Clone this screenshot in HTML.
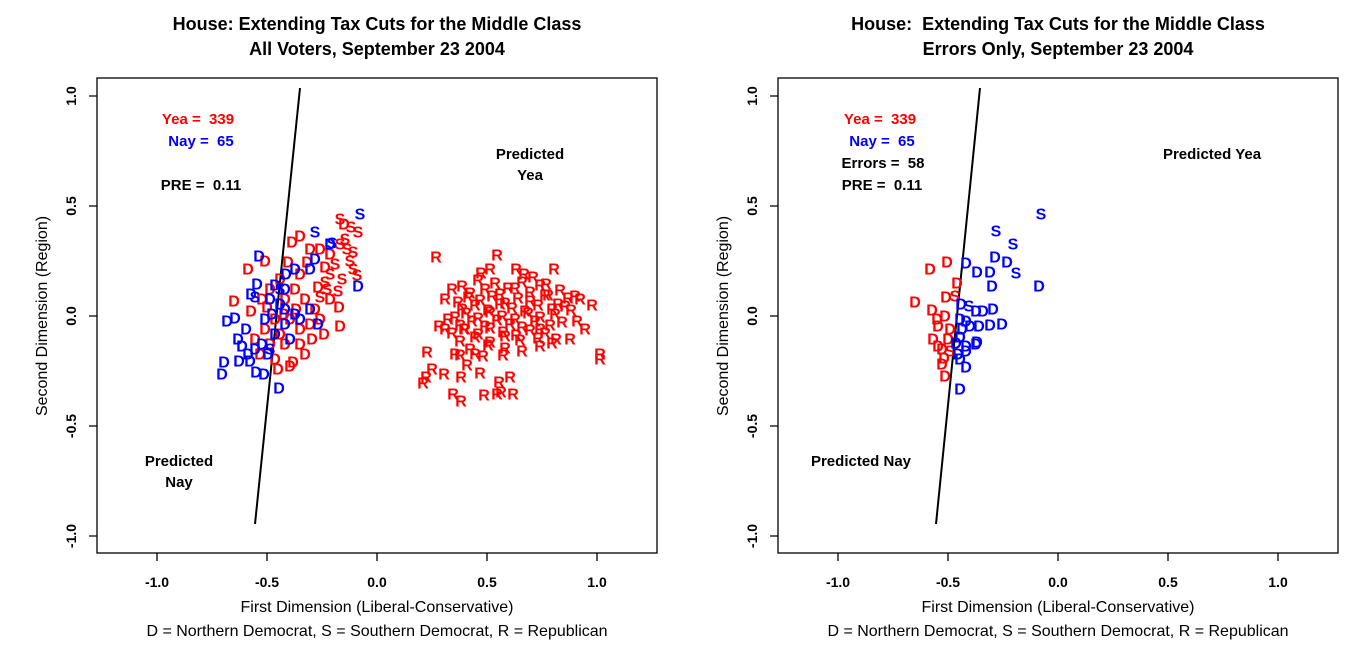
<!DOCTYPE html>
<html><head><meta charset="utf-8"><style>
html,body{margin:0;padding:0;background:#fff}
svg{display:block}
text{font-family:"Liberation Sans",Arial,sans-serif;white-space:pre}
</style></head><body>
<svg width="1362" height="651" viewBox="0 0 1362 651" xmlns="http://www.w3.org/2000/svg">
<rect width="1362" height="651" fill="#fff"/>
<g font-weight="bold" font-size="18" text-anchor="middle">
<text x="377" y="30">House: Extending Tax Cuts for the Middle Class</text>
<text x="377" y="55">All Voters, September 23 2004</text>
<text x="1058" y="30">House:&#160; Extending Tax Cuts for the Middle Class</text>
<text x="1058" y="55">Errors Only, September 23 2004</text>
</g>
<g font-size="16" text-anchor="middle">
<text x="377" y="612">First Dimension (Liberal-Conservative)</text>
<text x="377" y="636">D = Northern Democrat, S = Southern Democrat, R = Republican</text>
<text x="1058" y="612">First Dimension (Liberal-Conservative)</text>
<text x="1058" y="636">D = Northern Democrat, S = Southern Democrat, R = Republican</text>
<text transform="translate(47,316) rotate(-90)">Second Dimension (Region)</text>
<text transform="translate(728,316) rotate(-90)">Second Dimension (Region)</text>
</g>
<g fill="none" stroke="#000" stroke-width="1.3">
<rect x="97" y="78" width="560" height="475"/>
<rect x="778" y="78" width="560" height="475"/>
<path d="M157 553v8M267 553v8M377 553v8M487 553v8M597 553v8M97 96h-8M97 206h-8M97 316h-8M97 426h-8M97 536h-8"/>
<path d="M838 553v8M948 553v8M1058 553v8M1168 553v8M1278 553v8M778 96h-8M778 206h-8M778 316h-8M778 426h-8M778 536h-8"/>
<path d="M300 88L255 524" stroke-width="2"/>
<path d="M980 88L936 524" stroke-width="2"/>
</g>
<g font-weight="bold" font-size="14" text-anchor="middle">
<text x="157" y="587">-1.0</text><text x="267" y="587">-0.5</text><text x="377" y="587">0.0</text><text x="487" y="587">0.5</text><text x="597" y="587">1.0</text>
<text x="838" y="587">-1.0</text><text x="948" y="587">-0.5</text><text x="1058" y="587">0.0</text><text x="1168" y="587">0.5</text><text x="1278" y="587">1.0</text>
<text transform="translate(76,96) rotate(-90)">1.0</text><text transform="translate(76,206) rotate(-90)">0.5</text><text transform="translate(76,316) rotate(-90)">0.0</text><text transform="translate(76,426) rotate(-90)">-0.5</text><text transform="translate(76,536) rotate(-90)">-1.0</text>
<text transform="translate(757,96) rotate(-90)">1.0</text><text transform="translate(757,206) rotate(-90)">0.5</text><text transform="translate(757,316) rotate(-90)">0.0</text><text transform="translate(757,426) rotate(-90)">-0.5</text><text transform="translate(757,536) rotate(-90)">-1.0</text>
</g>
<g font-weight="bold" font-size="15" text-anchor="middle">
<text x="198" y="124" fill="#f00">Yea =&#160; 339</text>
<text x="201" y="146" fill="#00f">Nay =&#160; 65</text>
<text x="201" y="190">PRE =&#160; 0.11</text>
<text x="530" y="159">Predicted</text><text x="530" y="180">Yea</text>
<text x="179" y="466">Predicted</text><text x="179" y="487">Nay</text>
<text x="880" y="124" fill="#f00">Yea =&#160; 339</text>
<text x="882" y="146" fill="#00f">Nay =&#160; 65</text>
<text x="883" y="168">Errors =&#160; 58</text>
<text x="882" y="190">PRE =&#160; 0.11</text>
<text x="1212" y="159">Predicted Yea</text>
<text x="861" y="466">Predicted Nay</text>
</g>
<g font-weight="bold" font-size="16" text-anchor="middle" dominant-baseline="central">
<text fill="#f00" x="292 300 307 288 265 248 300 318 234 251 267 339 340 293 290 310 325 280 295 305 315 285 275 290 300 310 320 265 280 270 285 300 260 275 255 330 312 296 284 324 305 270 262 278 320 330 344" y="243 237 263 263 262 270 275 288 302 312 308 308 327 363 367 250 268 280 290 300 310 300 320 320 330 325 320 330 335 345 345 345 355 360 340 300 340 310 315 335 355 290 300 370 250 255 225">DDDDDDDDDDDDDDDDDDDDDDDDDDDDDDDDDDDDDDDDDDDDDDD</text>
<text fill="#f00" x="340 351 358 340 347 353 350 353 357 325 327 335 342 345 330 320 338" y="220 228 233 245 250 253 262 270 276 283 290 265 280 240 275 298 292">SSSSSSSSSSSSSSSSS</text>
<text fill="#00f" x="315 259 257 275 286 310 251 227 235 246 238 242 224 239 222 250 256 264 279 358 270 280 265 285 295 300 275 255 262 268 285 310 318 272 248 290 295 330 285" y="260 257 285 286 275 270 295 322 319 330 340 347 363 362 375 362 373 375 389 287 300 305 320 310 315 320 335 350 345 355 325 310 325 315 355 340 270 245 290">DDDDDDDDDDDDDDDDDDDDDDDDDDDDDDDDDDDDDDD</text>
<text fill="#00f" x="360 315 332 255 280 270" y="215 233 244 298 290 350">SSSSSS</text>
<text fill="#f00" x="436 497 490 481 516 524 533 554 546 575 592 571 577 439 445 427 432 426 423 444 453 461 461 480 484 497 501 513 499 510 600 600 503 483 475 460 467 455 464 462 478 495 508 522 540 470 485 500 515 530 548 560 458 468 480 492 505 518 530 545 558 568 462 475 488 500 512 525 538 552 565 455 466 478 490 502 515 528 540 555 460 472 485 497 510 522 535 550 562 452 465 478 490 503 516 530 545 460 475 490 505 520 538 552 470 488 505 522 540 448 445 452 580 585 540 556 570 520 530" y="258 256 270 274 270 275 278 270 285 297 306 311 322 327 330 353 370 378 384 375 395 378 402 374 396 395 393 395 383 378 355 360 356 357 355 356 366 355 330 287 281 284 289 283 286 294 290 295 289 293 296 291 303 298 301 297 304 299 302 296 305 299 310 306 311 305 309 312 306 310 307 318 314 319 313 317 320 314 318 315 326 322 327 321 325 328 322 326 323 334 330 335 329 333 336 331 334 342 338 343 337 341 339 344 350 346 349 352 347 320 300 290 300 330 330 340 340 355 345">RRRRRRRRRRRRRRRRRRRRRRRRRRRRRRRRRRRRRRRRRRRRRRRRRRRRRRRRRRRRRRRRRRRRRRRRRRRRRRRRRRRRRRRRRRRRRRRRRRRRRRRRRRRRRRRRRRRRR</text>
<text fill="#f00" x="930 947 957 946 915 932 937 945 938 933 938 942 944 942 945 950 948" y="270 263 284 298 303 311 320 317 327 340 347 350 359 365 377 330 340">DDDDDDDDDDDDDDDDD</text>
<text fill="#f00" x="955 950" y="297 352">SS</text>
<text fill="#00f" x="995 1007 1039 966 977 990 992 961 976 983 993 960 966 970 979 990 1002 960 977 956 966 958 960 966 976 966 960 962" y="258 263 287 264 273 273 287 305 312 312 310 320 322 327 327 326 325 338 343 344 347 355 360 352 345 368 390 330">DDDDDDDDDDDDDDDDDDDDDDDDDDDD</text>
<text fill="#00f" x="1041 996 1013 1016 969" y="215 232 245 274 307">SSSSS</text>
</g>
</svg>
</body></html>
